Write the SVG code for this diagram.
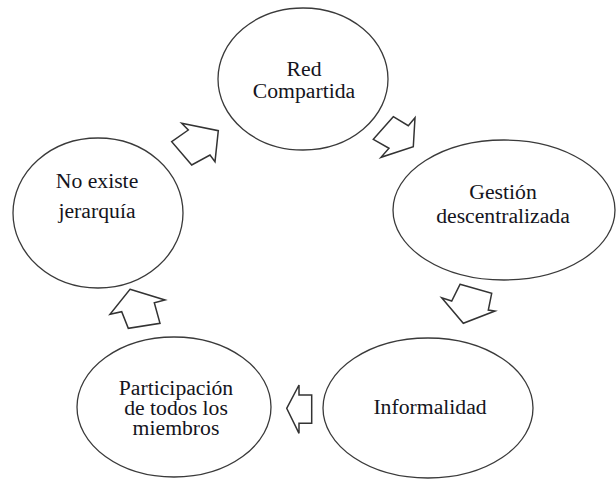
<svg xmlns="http://www.w3.org/2000/svg" width="616" height="480" viewBox="0 0 616 480">
<style>
.node ellipse{fill:#fff;stroke:#3a3a3a;stroke-width:1.3}
.node text{font-size:20px;fill:#141420;text-anchor:middle}
.conn polygon{fill:#fff;stroke:#333;stroke-width:1.5;stroke-linejoin:miter}
</style>
<rect width="616" height="480" fill="#fff"/>
<g id="n-red" class="node" font-family="'Liberation Serif', 'Times New Roman', 'DejaVu Serif', serif">
<ellipse cx="303" cy="79" rx="85" ry="71"/>
<text transform="matrix(1.085 0 0 1 304 0)" x="0" y="76">Red</text>
<text transform="matrix(1.085 0 0 1 304 0)" x="0" y="98">Compartida</text>
</g>
<g id="n-gestion" class="node" font-family="'Liberation Serif', 'Times New Roman', 'DejaVu Serif', serif">
<ellipse cx="504" cy="210" rx="111" ry="70"/>
<text transform="matrix(1.085 0 0 1 503 0)" x="0" y="199">Gestión</text>
<text transform="matrix(1.085 0 0 1 503 0)" x="0" y="223">descentralizada</text>
</g>
<g id="n-informalidad" class="node" font-family="'Liberation Serif', 'Times New Roman', 'DejaVu Serif', serif">
<ellipse cx="428" cy="408" rx="105" ry="70"/>
<text transform="matrix(1.085 0 0 1 430 0)" x="0" y="414">Informalidad</text>
</g>
<g id="n-participacion" class="node" font-family="'Liberation Serif', 'Times New Roman', 'DejaVu Serif', serif">
<ellipse cx="174" cy="407" rx="97" ry="70"/>
<text transform="matrix(1.085 0 0 1 176 0)" x="0" y="395">Participación</text>
<text transform="matrix(1.085 0 0 1 176 0)" x="0" y="415">de todos los</text>
<text transform="matrix(1.085 0 0 1 176 0)" x="0" y="435">miembros</text>
</g>
<g id="n-jerarquia" class="node" font-family="'Liberation Serif', 'Times New Roman', 'DejaVu Serif', serif">
<ellipse cx="98" cy="213" rx="85" ry="75"/>
<text transform="matrix(1.085 0 0 1 97 0)" x="0" y="188">No existe</text>
<text transform="matrix(1.085 0 0 1 97 0)" x="0" y="218">jerarquía</text>
</g>
<g id="connectors" class="conn">
<polygon points="181.7,123.3 218.3,130.7 215,161.7 210,155 191.7,165 171.7,141.7 188.3,130"/>
<polygon points="393.3,116.7 408.3,125.7 415,117.7 413.3,146.7 381,157.3 389,148.3 373.3,139.3"/>
<polygon points="460,284.3 491.7,293.3 488.3,310 495,311 463.3,323.3 441.7,297.7 451.7,301"/>
<polygon points="286.7,408.3 299,385 299,395 311.7,395 311.7,423.3 299,423.3 299,433.3"/>
<polygon points="130,289.3 165,300 154.3,302.7 160,323.3 128.3,328.3 121.7,311.7 110,314.3"/>
</g>
</svg>
